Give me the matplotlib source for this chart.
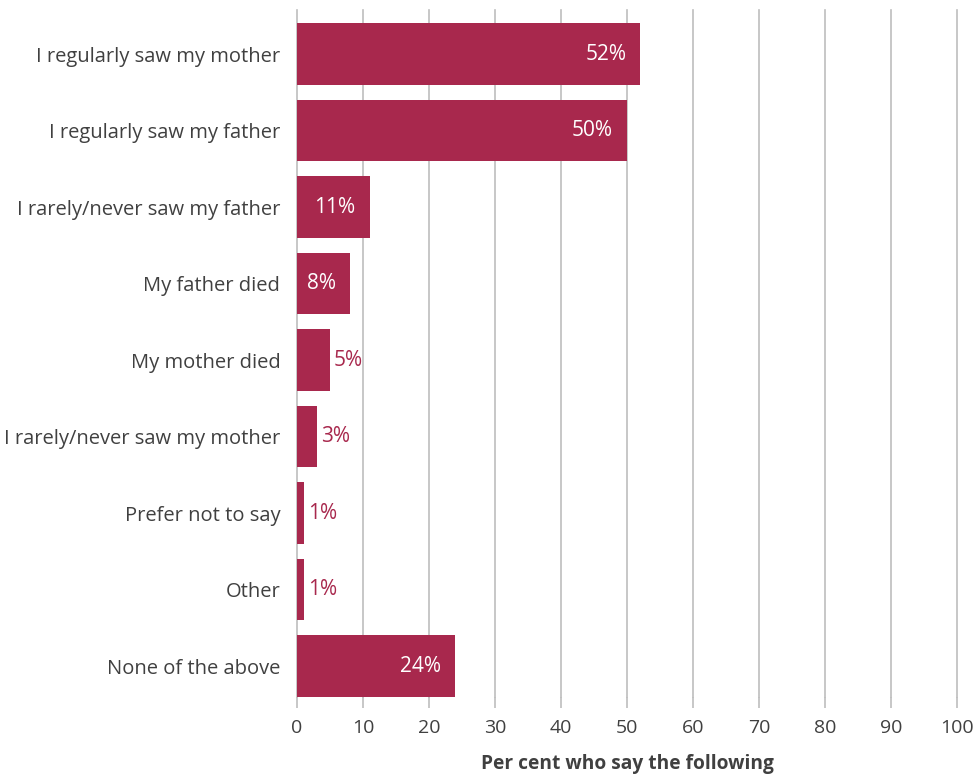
import matplotlib.pyplot as plt
from matplotlib.transforms import offset_copy

# Survey responses, top to bottom
categories = [
    "I regularly saw my mother",
    "I regularly saw my father",
    "I rarely/never saw my father",
    "My father died",
    "My mother died",
    "I rarely/never saw my mother",
    "Prefer not to say",
    "Other",
    "None of the above",
]
values = [52, 50, 11, 8, 5, 3, 1, 1, 24]
xticks = list(range(0, 101, 10))

bar_color = "#A8284D"
text_color = "#404040"
grid_color = "#BDBDBD"

plt.rcParams['font.family'] = ['Open Sans', 'DejaVu Sans']

fig = plt.figure(figsize=(9.76, 7.78), dpi=100)
ax = fig.add_axes([0.3043, 0.1041, 0.6762, 0.8830])

pos = list(range(len(categories)))
ax.barh(pos, values, height=0.8, color=bar_color, zorder=3)

ax.set_xlim(0, 100)
ax.set_ylim(8.405, -0.575)
ax.set_xticks(xticks)
ax.set_xticklabels([str(t) for t in xticks])
ax.set_yticks(pos)
ax.set_yticklabels(categories)

ax.grid(axis='x', color=grid_color, linewidth=1.2, zorder=0)
for gl in ax.get_xgridlines():
    gl.set_clip_on(False)
ax.tick_params(axis='x', length=8, width=1.2, color=grid_color, pad=8,
               labelsize=14, labelcolor=text_color)
ax.tick_params(axis='y', length=0, pad=12, labelsize=14.5, labelcolor=text_color)
for side in ['top', 'right', 'bottom', 'left']:
    ax.spines[side].set_visible(False)

ax.set_xlabel("Per cent who say the following", fontsize=13.8, fontweight='bold',
              color=text_color, labelpad=12)

# value labels: white inside long bars, coloured just past short ones
inside = offset_copy(ax.transData, fig=fig, x=-14, y=0, units='dots')
outside = offset_copy(ax.transData, fig=fig, x=4, y=0, units='dots')
for p, v in zip(pos, values):
    if v >= 8:
        ax.text(v, p, f"{v}%", transform=inside, ha='right', va='center',
                color='white', fontsize=15, zorder=4)
    else:
        ax.text(v, p, f"{v}%", transform=outside, ha='left', va='center',
                color=bar_color, fontsize=15, zorder=4)

fig.savefig("out.png", dpi=100)
